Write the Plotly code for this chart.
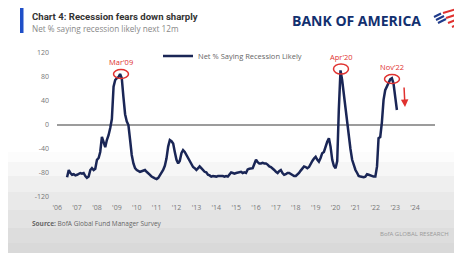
import plotly.graph_objects as go

# ---------------- data ----------------
start_year, start_month = 2006, 7
values = [
    # 2006 Jul-Dec
    -87, -75, -80, -83, -82, -84,
    # 2007
    -83, -82, -80, -81, -80, -85, -88, -86, -75, -72, -75, -73,
    # 2008
    -58, -55, -45, -20, -30, -37, -25, -17, -5, 10, 64, 75,
    # 2009
    78, 80, 85, 78, 47, 18, 6, 0, -25, -50, -64, -72,
    # 2010
    -75, -76, -78, -77, -76, -75, -78, -80, -83, -86, -88, -89,
    # 2011
    -90, -88, -84, -80, -75, -68, -56, -36, -25, -27, -31, -45,
    # 2012
    -58, -64, -60, -47, -42, -45, -50, -55, -60, -67, -70, -72,
    # 2013
    -75, -72, -69, -72, -75, -78, -79, -83, -84, -86, -85, -86,
    # 2014
    -86, -85, -85, -84, -85, -86, -85, -86, -82, -79, -80, -81,
    # 2015
    -80, -79, -78, -78, -80, -79, -80, -74, -73, -72, -72, -65,
    # 2016
    -58, -62, -64, -64, -63, -64, -64, -66, -69, -70, -72, -75,
    # 2017
    -78, -80, -77, -75, -80, -83, -82, -80, -80, -82, -84, -85,
    # 2018
    -85, -83, -80, -76, -72, -69, -70, -72, -70, -64, -60, -56,
    # 2019
    -53, -58, -61, -55, -47, -45, -36, -28, -22, -36, -58, -68,
    # 2020
    -72, -60, 25, 91, 75, 50, 30, 5, -20, -40, -58, -68,
    # 2021
    -75, -80, -85, -86, -87, -87, -86, -82, -83, -84, -86, -86,
    # 2022
    -86, -69, -22, -20, 4, 42, 58, 65, 72, 76, 78, 69,
    # 2023
    47, 25,
]
dates = []
y, m = start_year, start_month
for _ in values:
    dates.append(f"{y:04d}-{m:02d}-01")
    m += 1
    if m > 12:
        m = 1
        y += 1

year_ticks = [f"{yr}-01-01" for yr in range(2006, 2025)]
year_labels = [f"'{yr % 100:02d}" for yr in range(2006, 2025)]
y_ticks = [120, 80, 40, 0, -40, -80, -120]
y_labels = ["120", "80", "40", "0", "-40", "-80", "-120"]

peak_labels = ["Mar'09", "Apr'20", "Nov'22"]

# ---------------- layout helpers ----------------
# The page body has an 8px default margin, so the figure is drawn 8px smaller
# and all positions below are given in screen pixels of the 462x253 window.
OFF = 8
SW, SH = 462, 253
W, H = SW - OFF, SH - OFF
L, R, T, B = 57, 435, 53, 197   # plot area in screen pixels


def px(x):
    return (x - L) / (R - L)


def py(yy):
    return (B - yy) / (B - T)


NAVY = "#1a2656"
RED = "#e0312f"
FONT = "Open Sans"

fig = go.Figure()
fig.add_trace(go.Scatter(
    x=dates, y=values, mode="lines",
    name="Net % Saying Recession Likely",
    line=dict(color=NAVY, width=2.5),
))

shapes = []
# background gradient at bottom
grad = [(152, "#fcfcfc"), (162, "#f6f6f6"), (176, "#efefef"), (192, "#e9e9e9"),
        (210, "#e3e3e3"), (228, "#dddddd"), (243, "#d9d9d9")]
for yy, col in grad:
    shapes.append(dict(type="rect", xref="paper", yref="paper",
                       x0=px(0), x1=px(SW), y0=py(SH), y1=py(yy),
                       fillcolor=col, line=dict(width=0), layer="below"))
# title bar
shapes.append(dict(type="rect", xref="paper", yref="paper",
                   x0=px(20), x1=px(23.5), y0=py(33), y1=py(8),
                   fillcolor="#1f4fc8", line=dict(width=0)))
# peak ellipses
for cx, cy, w, h in [(121, 74, 15, 9), (341, 69, 15, 10), (392, 79, 15, 9)]:
    shapes.append(dict(type="circle", xref="paper", yref="paper",
                       x0=px(cx - w / 2), x1=px(cx + w / 2),
                       y0=py(cy + h / 2), y1=py(cy - h / 2),
                       line=dict(color=RED, width=1.5)))
# flag logo
for (x0, y0, x1, y1, col) in [
    (434, 17, 441, 13.5, "#1e3a8a"), (436, 20, 444, 16, "#1e3a8a"), (438, 23, 446, 19, "#1e3a8a"),
    (443, 13, 460, 8, RED), (446, 18, 461, 13, RED), (448, 23, 461, 18, RED), (452, 27, 461, 23, RED),
]:
    shapes.append(dict(type="line", xref="paper", yref="paper",
                       x0=px(x0), y0=py(y0), x1=px(x1), y1=py(y1),
                       line=dict(color=col, width=2)))

annotations = [
    dict(text="<b>Chart 4: Recession fears down sharply</b>", x=px(30), y=py(16),
         font=dict(size=9.6, color="#333333", family="Roboto")),
    dict(text="Net % saying recession likely next 12m", x=px(30), y=py(29),
         font=dict(size=8.2, color="#888888", family=FONT)),
    dict(text="<b>Source:</b> BofA Global Fund Manager Survey", x=px(30), y=py(223),
         font=dict(size=6.5, color="#666666", family=FONT)),
]
for a in annotations:
    a.update(xref="paper", yref="paper", showarrow=False, xanchor="left", yanchor="middle")
annotations.append(dict(text="<b>BANK OF AMERICA</b>", x=px(356), y=py(21),
                        xref="paper", yref="paper", showarrow=False,
                        xanchor="center", yanchor="middle",
                        font=dict(size=14, color="#12306f", family=FONT)))
annotations.append(dict(text="BofA GLOBAL RESEARCH", x=px(451), y=py(234),
                        xref="paper", yref="paper", showarrow=False,
                        xanchor="right", yanchor="middle",
                        font=dict(size=6, color="#999999", family=FONT)))

for lbl, cx, cy in zip(peak_labels, [121, 341, 392], [62, 57, 67]):
    annotations.append(dict(text=lbl, x=px(cx), y=py(cy), xref="paper", yref="paper",
                            showarrow=False, xanchor="center", yanchor="middle",
                            font=dict(size=7.5, color=RED, family=FONT)))
# down arrow
annotations.append(dict(x=px(405), y=py(107), xref="paper", yref="paper", text="",
                        showarrow=True, ax=-1, ay=-21, arrowcolor=RED, arrowhead=2,
                        arrowsize=1, arrowwidth=1.5))

fig.update_layout(
    width=W, height=H,
    margin=dict(l=L - OFF, r=SW - R, t=T - OFF, b=SH - B),
    paper_bgcolor="white", plot_bgcolor="rgba(0,0,0,0)",
    font=dict(family=FONT, color="#777777", size=7),
    shapes=shapes, annotations=annotations,
    showlegend=True,
    legend=dict(orientation="h", x=px(158), y=py(56), xanchor="left", yanchor="middle",
                bgcolor="rgba(0,0,0,0)", font=dict(size=7.5, color="#666666"),
                itemwidth=30),
    xaxis=dict(range=["2005-12-28", "2025-01-01"], tickvals=year_ticks, ticktext=year_labels,
               showgrid=False, zeroline=False, showline=False, ticks="",
               ticklabelstandoff=5, automargin=False,
               tickfont=dict(size=7, color="#777777")),
    yaxis=dict(range=[-120, 120], tickvals=y_ticks, ticktext=y_labels,
               showgrid=False, zeroline=True, zerolinecolor="#9c9c9c", zerolinewidth=1.5,
               showline=False, ticks="", ticklabelstandoff=7, automargin=False,
               tickfont=dict(size=7, color="#777777")),
)

fig.write_html("out.html")
